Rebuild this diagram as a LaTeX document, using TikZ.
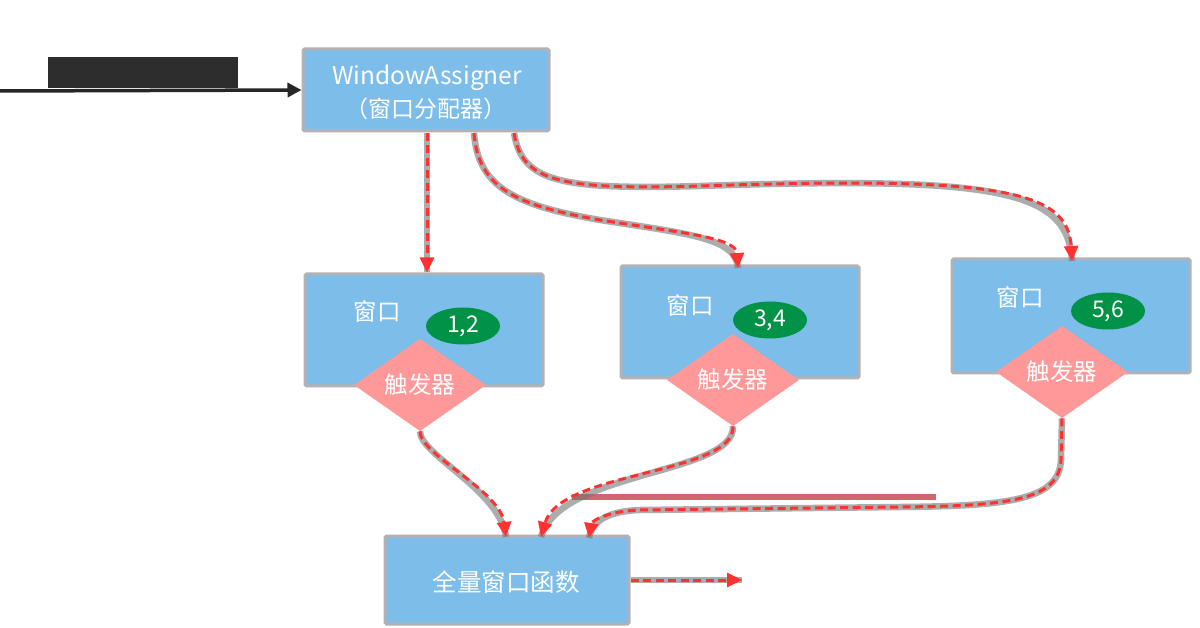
\documentclass[tikz,border=0pt]{standalone}
\usepackage{fontspec}
\setmainfont{Noto Sans CJK SC}
\usetikzlibrary{shapes.geometric,arrows.meta}
\definecolor{boxblue}{RGB}{125,189,234}
\definecolor{boxgrey}{RGB}{178,178,182}
\definecolor{okgreen}{RGB}{0,146,70}
\definecolor{pinkd}{RGB}{255,152,152}
\definecolor{redl}{RGB}{255,50,50}
\definecolor{halo}{RGB}{118,118,118}
\definecolor{blob}{RGB}{45,45,45}
\definecolor{barred}{RGB}{205,85,95}
\begin{document}
\begin{tikzpicture}[x=1pt,y=-1pt,
  bluebox/.style={rectangle,fill=boxblue,draw=boxgrey,line width=3pt,rounded corners=1.5pt,inner sep=0pt},
  wlabel/.style={text=white,font=\fontsize{23.5}{25}\selectfont,inner sep=0pt},
  cnt/.style={ellipse,fill=okgreen,text=white,minimum width=74pt,minimum height=37pt,inner sep=0pt,font=\fontsize{23}{25}\selectfont},
  trig/.style={diamond,fill=pinkd,text=white,minimum width=132pt,minimum height=60pt,inner sep=0pt,font=\fontsize{23.5}{25}\selectfont},
  flow/.style={draw=redl,line width=3pt,dash pattern=on 8pt off 4.5pt,-{Triangle[length=15pt,width=14pt]},
     preaction={draw=halo,line width=6.5pt,opacity=0.6,solid,-}}
]
\useasboundingbox (0,0) rectangle (1200,628);
\fill[white] (0,0) rectangle (1200,628);

% input
\node[fill=blob,text=blob,minimum width=190pt,minimum height=31pt,inner sep=0pt,font=\bfseries\fontsize{22}{24}\selectfont] (inlab) at (143,73) {输入数据流};
\coordinate (ins) at (0,91);
\node[bluebox,minimum width=246pt,minimum height=82pt] (wa) at (426,90) {};
\node[text=white,font=\fontsize{24.5}{26}\selectfont,inner sep=0pt] (wat1) at (427,78) {WindowAssigner};
\node[text=white,font=\fontsize{23}{25}\selectfont,inner sep=0pt] (wat2) at (426,109) {（窗口分配器）};
\draw[line width=3.5pt,draw=black!85,-{Triangle[length=14pt,width=14pt]}] (ins) -- (wa.west);

% windows
\node[bluebox,minimum width=238pt,minimum height=112pt] (w1) at (424,330) {};
\node[bluebox,minimum width=238pt,minimum height=112pt] (w2) at (740,322) {};
\node[bluebox,minimum width=238pt,minimum height=114pt] (w3) at (1071,316) {};
\node[wlabel] (l1) at (377,312) {窗口};
\node[wlabel] (l2) at (690,306) {窗口};
\node[wlabel] (l3) at (1020,298) {窗口};
\node[cnt] (c1) at (463,326) {1,2};
\node[cnt] (c2) at (770,320) {3,4};
\node[cnt] (c3) at (1108,311) {5,6};
\node[trig] (t1) at (420,385) {触发器};
\node[trig] (t2) at (733,380) {触发器};
\node[trig] (t3) at (1062,372) {触发器};

% function
\node[bluebox,minimum width=244pt,minimum height=88pt] (fn) at (507,580) {};
\node[wlabel,font=\fontsize{24.5}{26}\selectfont] (fnl) at (506,582) {全量窗口函数};

% assigner -> windows
\coordinate (a1) at (427,133);
\coordinate (a2) at (474,133);
\coordinate (a3) at (514,133);
\coordinate (e2) at (738,268);
\coordinate (e3) at (1072,261);
\draw[flow] (a1) -- (a1 |- w1.north);
\draw[flow] (a2) .. controls (478,190) and (520,206) .. (600,220)
   .. controls (690,234) and (736,238) .. (e2);
\draw[flow] (a3) .. controls (522,182) and (560,190) .. (700,186)
   .. controls (1000,176) and (1068,190) .. (e3);

% triggers -> function
\coordinate (f1) at (506,537);
\coordinate (f2) at (541,537);
\coordinate (f3) at (589,538);
\draw[barred,line width=6pt,opacity=0.9] (572,497) -- (936,497);
\draw[flow] (t1.south) .. controls (420,455) and (500,490) .. (f1);
\draw[flow] (t2.south) .. controls (735,475) and (560,470) .. (f2);
\draw[flow] (t3.south) -- (1061,460) .. controls (1059,500) and (1010,506) .. (900,507)
   -- (640,510) .. controls (610,511) and (592,520) .. (f3);

% output
\coordinate (out) at (742,580);
\draw[flow] (fn.east) -- (out);
\end{tikzpicture}
\end{document}
